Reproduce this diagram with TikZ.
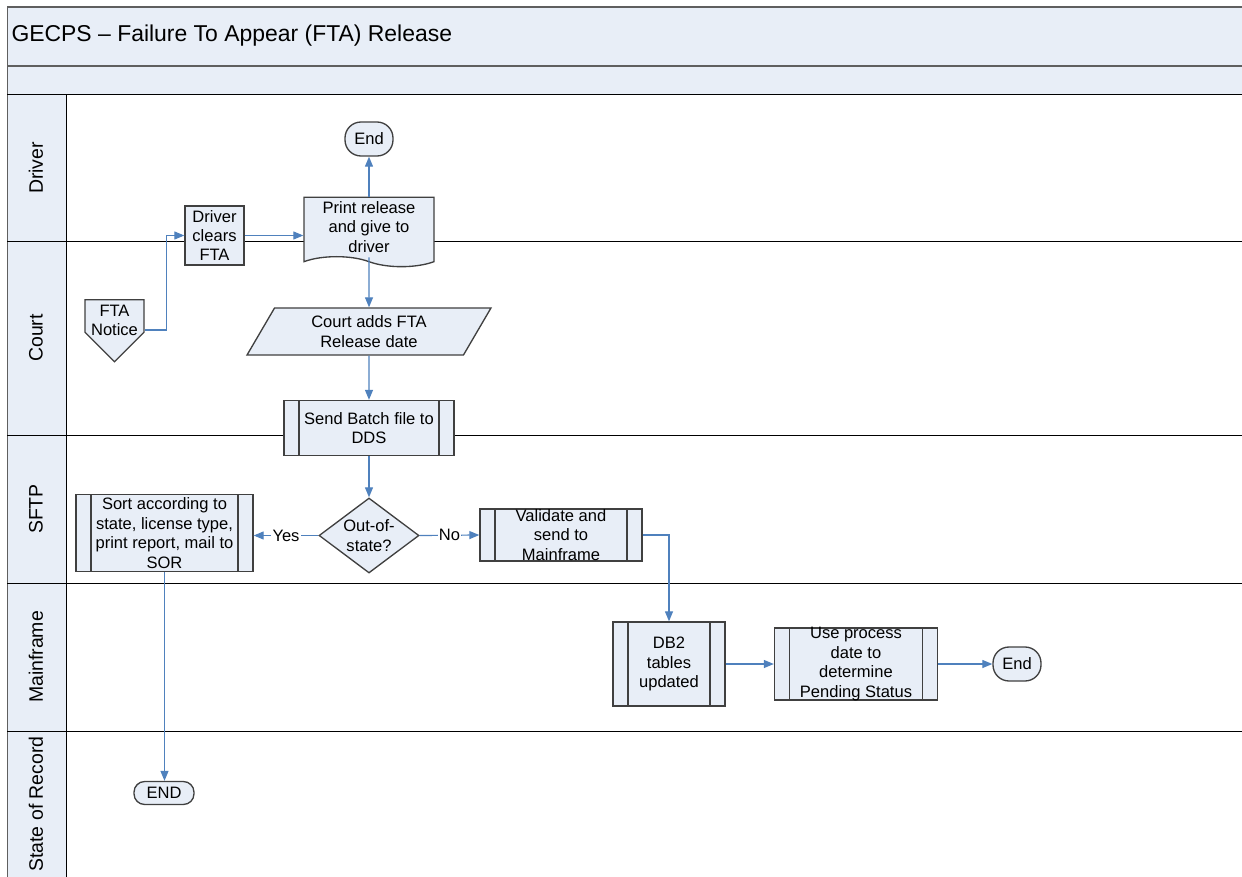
\documentclass[tikz,border=0pt]{standalone}
\usepackage{fontspec}
\setmainfont{Liberation Sans}
\usetikzlibrary{arrows.meta,shapes.geometric,shapes.symbols}

\definecolor{laneFill}{HTML}{E8EEF7}
\definecolor{shapeLine}{HTML}{404040}
\definecolor{flowBlue}{HTML}{4F81BD}
\definecolor{bandLine}{HTML}{5F5F5F}

\tikzset{every picture/.style={line width=0.75pt}}
\tikzset{
  box/.style={draw=shapeLine, fill=laneFill, line width=1pt, inner sep=0pt, align=center, font=\fontsize{12.4}{14.6}\selectfont},
  subproc/.style={box, path picture={
      \draw[shapeLine, line width=1pt] ([xshift=11.25pt]path picture bounding box.north west) -- ([xshift=11.25pt]path picture bounding box.south west);
      \draw[shapeLine, line width=1pt] ([xshift=-11.25pt]path picture bounding box.north east) -- ([xshift=-11.25pt]path picture bounding box.south east);}},
  term/.style={box, rounded corners=12pt, minimum width=36pt, minimum height=25.5pt},
  flow/.style={draw=flowBlue, line width=0.9pt, -{Triangle[length=7.5pt,width=6pt]}},
  lanelbl/.style={rotate=90, font=\fontsize{14.6}{17}\selectfont},
  choice/.style={fill=white, inner sep=1pt, font=\fontsize{12.4}{14.6}\selectfont},
}

\begin{document}
\begin{tikzpicture}[x=0.75pt,y=0.75pt,yscale=-1,xscale=1]
	\useasboundingbox (0,0) rectangle (1242,877); %set diagram 1242 wide, 877 high
	
	%Shape: Title bands
	\fill[laneFill] (7,7) rectangle (1242,95);
	\draw[bandLine, line width=1.5pt] (7,7) -- (1242,7) (7,66) -- (1242,66);
	%Shape: Lane column
	\fill[laneFill] (7,95) rectangle (66,877);
	\draw[bandLine] (7,7) -- (7,877);
	\draw (66,95) -- (66,877);
	%Straight Lines: lane borders
	\foreach \y in {95,242,435,583,731}
	  \draw (7,\y) -- (1242,\y);
	
	% Text Node
	\node[anchor=west, inner sep=0pt, font=\fontsize{17.2}{20}\selectfont] (ttl) at (11,36) {GECPS – Failure To Appear (FTA) Release};
	% Lane labels
	\node[lanelbl] (lDrv) at (36,168) {Driver};
	\node[lanelbl] (lCrt) at (36,338) {Court};
	\node[lanelbl] (lSftp) at (36,509) {SFTP};
	\node[lanelbl] (lMf) at (36,657) {Mainframe};
	\node[lanelbl] (lSor) at (36,804) {State of Record};
	
	%Shape: Driver lane
	\node[term] (endDrv) at (369,139) {End};
	\node[box, minimum width=44.25pt, minimum height=44.25pt] (drv) at (214.5,235.5) {Driver\\clears\\FTA};
	\node[box, tape, tape bend top=none, tape bend bottom=out and in, tape bend height=7.5pt, minimum width=97.5pt, minimum height=52pt] (prt) at (369,227) {Print release\\and give to\\driver};
	%Shape: Court lane
	\node[box, signal, signal to=south, signal pointer angle=90, inner ysep=-2.4pt, minimum width=44.25pt, minimum height=0pt] (fta) at (114.5,316) {\raisebox{-4.5pt}[\height][\depth]{\begin{tabular}{@{}c@{}}FTA\\Notice\end{tabular}}};
	\node[box, trapezium, trapezium left angle=62, trapezium right angle=118, trapezium stretches=true, minimum width=183pt, minimum height=35.25pt] (crt) at (369,331.5) {Court adds FTA\\Release date};
	\node[subproc, minimum width=127.5pt, minimum height=41.25pt] (snd) at (369,428) {Send Batch file to\\DDS};
	%Shape: SFTP lane
	\node[box, diamond, inner sep=-12pt, minimum width=75pt, minimum height=56.25pt] (dec) at (369,535.5) {Out-of-\\state?};
	\node[subproc, minimum width=132.75pt, minimum height=57.75pt] (srt) at (164.5,533) {Sort according to\\state, license type,\\print report, mail to\\SOR};
	\node[subproc, inner ysep=-3pt, minimum width=121.5pt, minimum height=39pt] (val) at (561,535) {Validate and\\send to\\Mainframe};
	%Shape: Mainframe lane
	\node[subproc, minimum width=84pt, minimum height=63pt] (dbt) at (669,664) {DB2\\tables\\updated};
	\node[subproc, inner ysep=-4pt, minimum width=122.25pt, minimum height=54pt] (usp) at (856,664) {Use process\\date to\\determine\\Pending Status};
	\node[term] (endMf) at (1017,664) {End};
	%Shape: State of Record lane
	\node[term, rounded corners=8pt, minimum width=45pt, minimum height=17.25pt] (endSor) at (164,793) {END};
	
	%Straight Lines: connectors
	\draw[flow] (prt.north) -- (endDrv.south);
	\draw[flow] (drv.east) -- (drv.east -| prt.west);
	\draw[flow] ([yshift=10.5pt]fta.east) -- ++(22,0) |- (drv.west);
	\draw[flow] (prt.south) -- (crt.north);
	\draw[flow] (crt.south) -- (snd.north);
	\draw[flow] (snd.south) -- (dec.north);
	\draw[flow] (dec.west) -- node[choice] {Yes} (dec.west -| srt.east);
	\draw[flow] (dec.east) -- node[choice] {No} (val.west);
	\draw[flow] (val.east) -| (dbt.north);
	\draw[flow] (dbt.east) -- (usp.west);
	\draw[flow] (usp.east) -- (endMf.west);
	\draw[flow] (srt.south) -- (srt.south |- endSor.north);
	
\end{tikzpicture}
\end{document}
